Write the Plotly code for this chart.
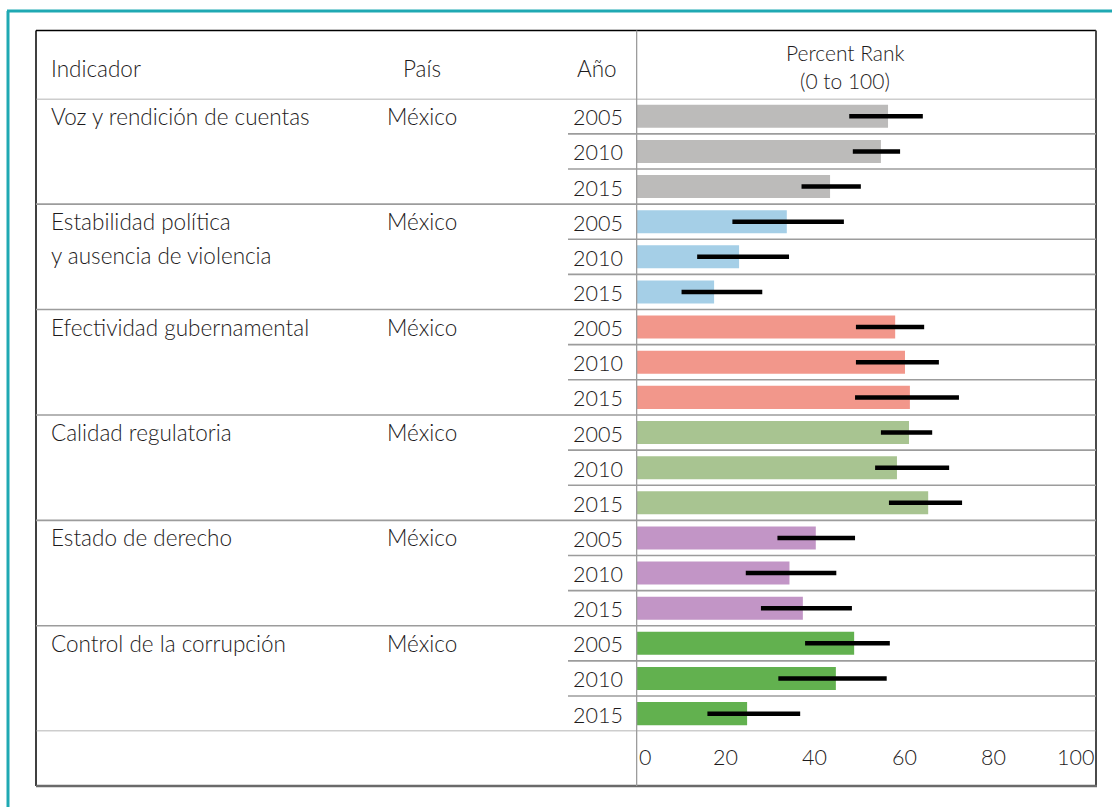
import plotly.graph_objects as go

# Worldwide Governance Indicators, México
indicadores = [
    "Voz y rendición de cuentas",
    "Estabilidad política<br>y ausencia de violencia",
    "Efectividad gubernamental",
    "Calidad regulatoria",
    "Estado de derecho",
    "Control de la corrupción",
]
pais = "México"
anios = ["2005", "2010", "2015"]

# percentile rank and its confidence interval, one list per indicator
rank = [
    [56.4, 54.8, 43.4],
    [33.7, 23.0, 17.4],
    [58.0, 60.2, 61.3],
    [61.1, 58.4, 65.4],
    [40.2, 34.3, 37.3],
    [48.8, 44.7, 24.8],
]
lower = [
    [47.7, 48.5, 37.0],
    [21.5, 13.6, 10.1],
    [49.2, 49.2, 49.0],
    [54.8, 53.5, 56.6],
    [31.6, 24.5, 27.9],
    [37.8, 31.8, 15.9],
]
upper = [
    [64.2, 59.1, 50.3],
    [46.5, 34.2, 28.2],
    [64.5, 67.8, 72.3],
    [66.3, 70.1, 73.0],
    [49.0, 44.8, 48.3],
    [56.8, 56.1, 36.7],
]
tick_values = [0, 20, 40, 60, 80, 100]

colores = ["#bcbbba", "#a5cfe7", "#f2978b", "#a8c491", "#c295c6", "#62b14f"]

W, H = 1112, 807
FONT = "Lato"
TXT = "#1e1b1c"
GRID = "#9c9c9c"


def px(x):
    return x / W


def py(y):
    return 1 - y / H


n_years = len(anios)
n_rows = len(indicadores) * n_years

fig = go.Figure()
for g, nombre in enumerate(indicadores):
    ys = [g * n_years + k + 0.5 for k in range(n_years)]
    fig.add_trace(go.Bar(
        x=rank[g], y=ys, orientation="h", width=0.655,
        marker=dict(color=colores[g], line=dict(width=0)),
        error_x=dict(
            type="data", symmetric=False,
            array=[u - v for u, v in zip(upper[g], rank[g])],
            arrayminus=[v - l for v, l in zip(rank[g], lower[g])],
            color="#000000", thickness=4.5, width=0,
        ),
        showlegend=False, hoverinfo="skip",
    ))

shapes = []
ann = []

# outer teal frame
shapes.append(dict(type="line", xref="paper", yref="paper", x0=px(7), x1=px(1112),
                   y0=py(11), y1=py(11), line=dict(color="#1fa9b3", width=3)))
shapes.append(dict(type="line", xref="paper", yref="paper", x0=px(8), x1=px(8),
                   y0=py(11), y1=py(807), line=dict(color="#1fa9b3", width=3)))

# table box
shapes.append(dict(type="line", xref="paper", yref="paper", x0=px(36), x1=px(1096),
                   y0=py(30.5), y1=py(30.5), line=dict(color="#000000", width=1.5)))
shapes.append(dict(type="line", xref="paper", yref="paper", x0=px(36), x1=px(36),
                   y0=py(30.5), y1=py(786), line=dict(color="#000000", width=1.5)))
shapes.append(dict(type="line", xref="paper", yref="paper", x0=px(1096), x1=px(1096),
                   y0=py(30.5), y1=py(786), line=dict(color="#4a4a4a", width=2)))
shapes.append(dict(type="line", xref="paper", yref="paper", x0=px(36), x1=px(1097),
                   y0=py(786), y1=py(786), line=dict(color="#6a6a6a", width=2.5)))

# row separators: full width between indicators, partial between years
for r in range(n_rows + 1):
    full = (r % n_years == 0)
    shapes.append(dict(type="line", xref="paper", yref="y",
                       x0=px(36) if full else px(568), x1=px(1096),
                       y0=r, y1=r, line=dict(color=GRID, width=1.6)))

# vertical divider at the zero of the bar scale
shapes.append(dict(type="line", xref="x", yref="paper", x0=0, x1=0,
                   y0=py(30.5), y1=py(786), line=dict(color=GRID, width=1.6)))

fnt = dict(family=FONT, size=22.5, color=TXT, weight=300)
fnum = dict(family=FONT, size=21.5, color=TXT, weight=300)
fhead = dict(family=FONT, size=21, color=TXT, weight=300)

# header
ann.append(dict(text="Indicador", xref="paper", yref="paper", x=px(49), y=py(68),
                xanchor="left", yanchor="middle", showarrow=False, font=fnt))
ann.append(dict(text="País", xref="paper", yref="paper", x=px(422), y=py(68),
                xanchor="center", yanchor="middle", showarrow=False, font=fnt))
ann.append(dict(text="Año", xref="paper", yref="paper", x=px(597), y=py(68),
                xanchor="center", yanchor="middle", showarrow=False, font=fnt))
ann.append(dict(text="Percent Rank", xref="paper", yref="paper",
                x=px(845), y=py(53), xanchor="center", yanchor="middle",
                showarrow=False, font=fhead))
ann.append(dict(text="(0 to 100)", xref="paper", yref="paper",
                x=px(845), y=py(81), xanchor="center", yanchor="middle",
                showarrow=False, font=fhead))

# table body
for g, nombre in enumerate(indicadores):
    y0 = g * n_years + 0.5
    for j, linea in enumerate(nombre.split("<br>")):
        ann.append(dict(text=linea, xref="paper", yref="y", x=px(49), y=y0,
                        xanchor="left", yanchor="middle", yshift=-34 * j,
                        showarrow=False, font=fnt, align="left"))
    ann.append(dict(text=pais, xref="paper", yref="y", x=px(385), y=y0,
                    xanchor="left", yanchor="middle", showarrow=False, font=fnt))
    for k, a in enumerate(anios):
        ann.append(dict(text=a, xref="paper", yref="y", x=px(625), y=y0 + k,
                        xanchor="right", yanchor="middle", yshift=-1,
                        showarrow=False, font=fnum))

# scale labels under the bars
for v in tick_values:
    shift = 8 if v == tick_values[0] else (-7 if v == tick_values[-1] else 0)
    ann.append(dict(text=str(v), xref="x", yref="paper", x=v, y=py(757),
                    xanchor="center", yanchor="middle", xshift=shift,
                    showarrow=False, font=fnum))

x0_px, unit_px = 636.5, 4.46
fig.update_layout(
    width=W, height=H,
    margin=dict(l=0, r=0, t=0, b=0),
    paper_bgcolor="white", plot_bgcolor="rgba(0,0,0,0)",
    barmode="overlay",
    xaxis=dict(domain=[px(636), px(1096)],
               range=[(636 - x0_px) / unit_px, (1096 - x0_px) / unit_px],
               showgrid=False, zeroline=False, showticklabels=False,
               showline=False, fixedrange=True),
    yaxis=dict(domain=[py(731.2), py(98.7)], range=[n_rows, 0],
               showgrid=False, zeroline=False, showticklabels=False,
               showline=False, fixedrange=True),
    shapes=shapes,
    annotations=ann,
    font=dict(family=FONT, color=TXT),
)

fig.write_html("out.html")
